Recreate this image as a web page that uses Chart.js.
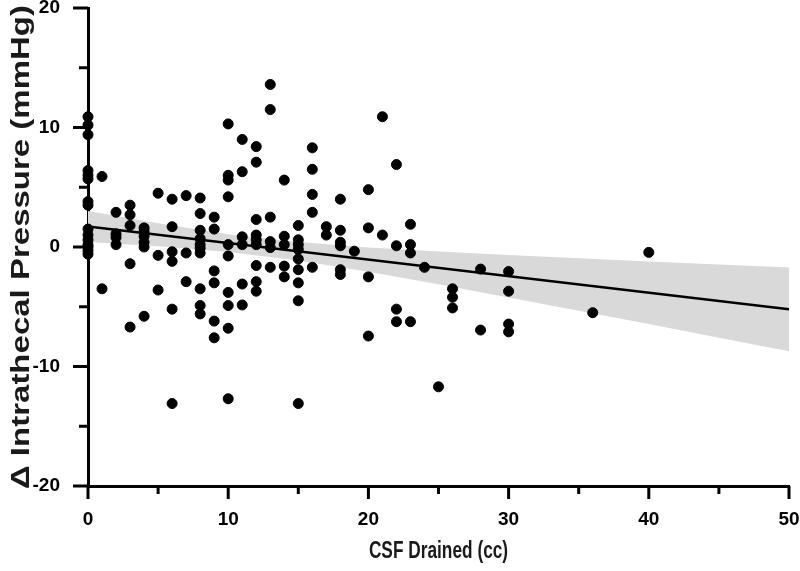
<!DOCTYPE html>
<html>
<head>
<meta charset="utf-8">
<title>CSF drained vs intrathecal pressure</title>
<script src="https://cdn.jsdelivr.net/npm/chart.js@4.4.1/dist/chart.umd.min.js"></script>
<style>
  html, body { margin: 0; padding: 0; background: #fff; }
  #wrap { width: 800px; height: 571px; position: relative; }
</style>
</head>
<body>
<div id="wrap"><canvas id="chart"></canvas></div>
<script>
// ---------- DATA ----------
// one row per CSF volume column
const csfDrained = [
  0, 0, 0, 0, 0, 0, 0, 0, 0, 0, 0, 0, 0, 0, 0,
  1, 1,
  2, 2, 2, 2,
  3, 3, 3, 3, 3,
  4, 4, 4, 4, 4, 4,
  5, 5, 5,
  6, 6, 6, 6, 6, 6,
  7, 7, 7,
  8, 8, 8, 8, 8, 8, 8, 8, 8, 8,
  9, 9, 9, 9, 9, 9,
  10, 10, 10, 10, 10, 10, 10, 10, 10, 10,
  11, 11, 11, 11, 11, 11,
  12, 12, 12, 12, 12, 12, 12, 12, 12,
  13, 13, 13, 13, 13, 13,
  14, 14, 14, 14, 14,
  15, 15, 15, 15, 15, 15, 15, 15, 15,
  16, 16, 16, 16, 16,
  17, 17,
  18, 18, 18, 18, 18, 18,
  19,
  20, 20, 20, 20,
  21, 21,
  22, 22, 22, 22,
  23, 23, 23, 23,
  24,
  25,
  26, 26, 26,
  28, 28,
  30, 30, 30, 30,
  36,
  40
];
const pressureChange = [
  10.9, 10.2, 9.4, 6.4, 6.0, 5.7, 3.8, 3.5, 1.5, 1.0, 0.6, 0.2, 0.0, -0.3, -0.6,
  5.9, -3.5,
  2.9, 1.1, 0.8, 0.2,
  3.5, 2.7, 1.8, -1.4, -6.7,
  1.6, 1.3, 0.9, 0.4, 0.0, -5.8,
  4.5, -0.7, -3.6,
  4.0, 1.7, -0.4, -1.2, -5.2, -13.1,
  4.3, -0.5, -2.9,
  4.1, 2.8, 1.4, 0.7, 0.2, -0.1, -0.5, -3.5, -4.9, -5.6,
  2.5, 1.5, -2.0, -3.0, -6.2, -7.6,
  10.3, 6.0, 5.6, 4.2, 0.2, -0.75, -3.8, -4.9, -6.8, -12.7,
  9.0, 6.3, 0.85, 0.2, -3.1, -4.85,
  8.4, 7.1, 2.3, 1.0, 0.6, 0.2, -1.55, -2.9, -3.7,
  13.6, 11.5, 2.5, 0.45, -0.05, -1.7,
  5.6, 0.9, 0.2, -1.6, -2.5,
  1.8, 0.6, 0.2, -0.2, -1.0, -1.9, -3.0, -4.5, -13.1,
  8.3, 6.5, 4.4, 2.9, -1.7,
  1.7, 1.0,
  4.0, 1.4, 0.4, 0.1, -1.9, -2.3,
  -0.35,
  4.8, 1.6, -2.5, -7.45,
  10.9, 1.0,
  6.9, 0.1, -5.2, -6.25,
  1.9, 0.2, -0.5, -6.25,
  -1.7,
  -11.7,
  -3.5, -4.2, -5.1,
  -1.85, -6.95,
  -2.05, -3.7, -6.45, -7.1,
  -5.5,
  -0.45
];

// regression line (two ends)
const fitX = [0, 50];
const fitY = [1.72, -5.22];

// 95% confidence band, read at every 5 cc
const bandX = [0, 5, 10, 15, 20, 25, 30, 35, 40, 45, 50];
const bandUpper = [3.02, 1.99, 1.07, 0.41, -0.04, -0.38, -0.67, -0.94, -1.21, -1.47, -1.72];
const bandLower = [0.42, 0.07, -0.41, -1.13, -2.08, -3.12, -4.22, -5.33, -6.45, -7.59, -8.72];

const xTitle = 'CSF Drained (cc)';
const yTitle = 'Δ Intrathecal Pressure (mmHg)';

// ---------- HELPERS ----------
const toXY = (xs, ys) => xs.map((x, i) => ({ x, y: ys[i] }));

// tick marks: long at multiples of 10, short at odd fives
const tickMarks = {
  id: 'tickMarks',
  afterDraw(chart) {
    const { ctx, chartArea } = chart;
    const xs = chart.scales.x, ys = chart.scales.y;
    ctx.save();
    ctx.strokeStyle = '#000';
    ctx.lineWidth = 3;
    ctx.lineCap = 'butt';
    xs.ticks.forEach(t => {
      const px = xs.getPixelForValue(t.value);
      const len = t.value % 10 === 0 ? 13 : 8;
      ctx.beginPath();
      ctx.moveTo(px, chartArea.bottom);
      ctx.lineTo(px, chartArea.bottom + len);
      ctx.stroke();
    });
    ys.ticks.forEach(t => {
      const py = ys.getPixelForValue(t.value);
      const len = t.value % 10 === 0 ? 15 : 9;
      ctx.beginPath();
      ctx.moveTo(chartArea.left, py);
      ctx.lineTo(chartArea.left - len, py);
      ctx.stroke();
    });
    ctx.restore();
  }
};

// axis titles in a squeezed face (no narrow font installed)
const axisTitles = {
  id: 'axisTitles',
  afterDraw(chart) {
    const { ctx, chartArea } = chart;
    const cx = (chartArea.left + chartArea.right) / 2;
    const cy = (chartArea.top + chartArea.bottom) / 2;
    ctx.save();
    ctx.fillStyle = '#1a1a1a';
    ctx.textAlign = 'center';
    ctx.textBaseline = 'middle';

    ctx.save();
    ctx.translate(cx, 551);
    ctx.scale(0.72, 1);
    ctx.font = "bold 24px 'Liberation Sans', Arial, sans-serif";
    ctx.fillText(xTitle, 0, 0);
    ctx.restore();

    ctx.save();
    ctx.translate(22, cy);
    ctx.rotate(-Math.PI / 2);
    ctx.scale(1, 0.76);
    ctx.font = "bold 33px 'Liberation Sans', Arial, sans-serif";
    ctx.fillText(yTitle, 0, 0);
    ctx.restore();

    ctx.restore();
  }
};

const tickFont = { family: "'Liberation Sans', Arial, sans-serif", size: 19, weight: 'bold' };

new Chart(document.getElementById('chart'), {
  type: 'scatter',
  data: {
    datasets: [
      {
        label: 'Pressure change',
        data: toXY(csfDrained, pressureChange),
        backgroundColor: '#000',
        borderColor: '#000',
        pointRadius: 5,
        pointHoverRadius: 5,
        clip: false,
        order: 0
      },
      {
        label: 'Fit',
        data: toXY(fitX, fitY),
        showLine: true,
        borderColor: '#000',
        borderWidth: 2.5,
        pointRadius: 0,
        order: 1
      },
      {
        label: 'CI upper',
        data: toXY(bandX, bandUpper),
        showLine: true,
        borderWidth: 0,
        borderColor: 'rgba(0,0,0,0)',
        backgroundColor: '#d9d9d9',
        pointRadius: 0,
        fill: '+1',
        order: 2
      },
      {
        label: 'CI lower',
        data: toXY(bandX, bandLower),
        showLine: true,
        borderWidth: 0,
        borderColor: 'rgba(0,0,0,0)',
        pointRadius: 0,
        order: 3
      }
    ]
  },
  options: {
    responsive: true,
    maintainAspectRatio: false,
    animation: false,
    layout: { padding: { top: 8, right: 11, left: 0, bottom: 0 } },
    plugins: {
      legend: { display: false },
      tooltip: { enabled: false }
    },
    scales: {
      x: {
        type: 'linear',
        min: 0,
        max: 50,
        grid: { display: false },
        border: { display: true, color: '#000', width: 3 },
        ticks: {
          stepSize: 5,
          autoSkip: false,
          maxRotation: 0,
          padding: 14,
          color: '#000',
          font: tickFont,
          callback: v => (v % 10 === 0 ? String(v) : '')
        },
        afterFit(scale) { scale.height = 85; scale.paddingLeft = 0; scale.paddingRight = 0; }
      },
      y: {
        type: 'linear',
        min: -20,
        max: 20,
        grid: { display: false },
        border: { display: true, color: '#000', width: 3 },
        ticks: {
          stepSize: 5,
          autoSkip: false,
          padding: 20,
          color: '#000',
          font: tickFont,
          callback: v => (v % 10 === 0 ? String(v) : '')
        },
        afterFit(scale) { scale.width = 88; scale.paddingTop = 0; scale.paddingBottom = 0; }
      }
    }
  },
  plugins: [tickMarks, axisTitles]
});
</script>
</body>
</html>
